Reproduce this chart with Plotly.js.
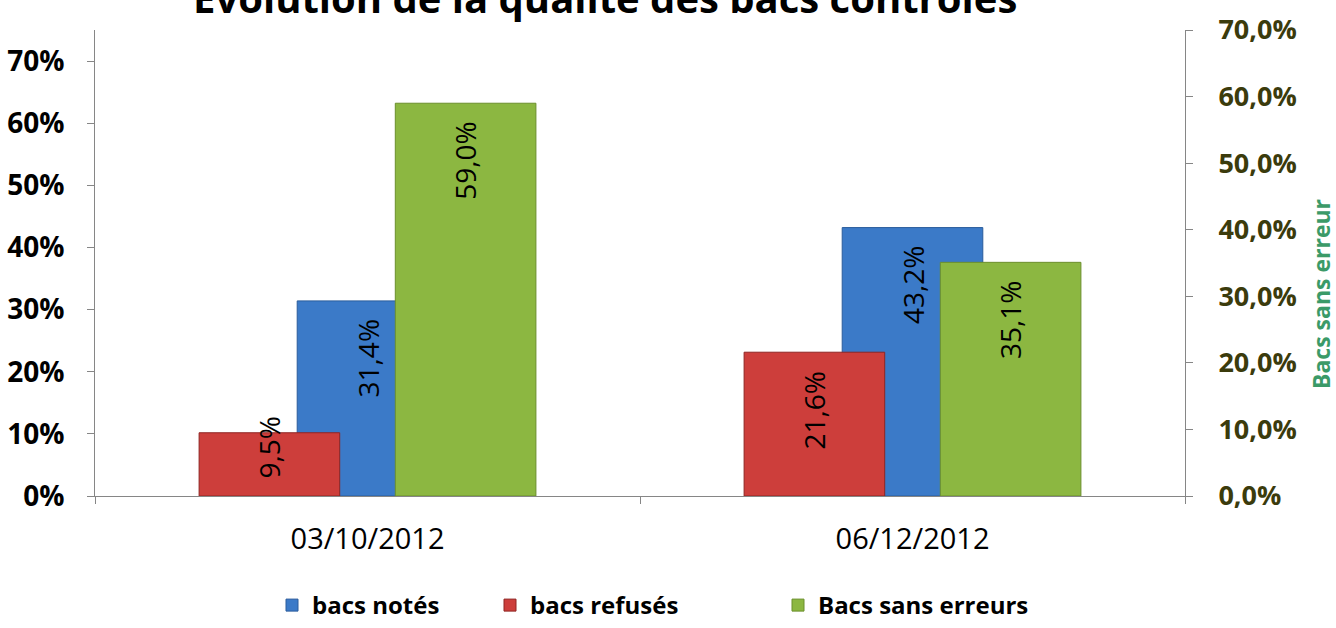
<!DOCTYPE html>
<html>
<head>
<meta charset="utf-8">
<script src="https://cdn.plot.ly/plotly-3.0.1.min.js"></script>
<style>html,body{margin:0;padding:0;background:#fff;}#chart{width:1336px;height:628px;}</style>
</head>
<body>
<div id="chart"></div>
<script>
// ---- data ----
var categories = ['03/10/2012', '06/12/2012'];
var bacsNotes = [31.4, 43.2];        // left axis
var bacsRefuses = [9.5, 21.6];       // right axis
var bacsSansErreurs = [59.0, 35.1];  // right axis
var seriesNames = ['bacs notés', 'bacs refusés', 'Bacs sans erreurs'];
var leftTicks = [0, 10, 20, 30, 40, 50, 60, 70];
var leftTickText = ['0%', '10%', '20%', '30%', '40%', '50%', '60%', '70%'];
var rightTicks = [0, 10, 20, 30, 40, 50, 60, 70];
var rightTickText = ['0,0%', '10,0%', '20,0%', '30,0%', '40,0%', '50,0%', '60,0%', '70,0%'];
var chartTitle = 'Evolution de la qualité des bacs contrôlés';
var rightAxisTitle = 'Bacs sans erreur';

// ---- style ----
var FONT = 'Open Sans, Noto Sans, sans-serif';
var W = 1336, H = 628;
var M = {l: 95, r: 151, t: 30, b: 132};
var plotW = W - M.l - M.r, plotH = H - M.t - M.b;
var barW = 0.258, step = 0.18;
var colors = {blue: '#3b7ac8', red: '#cd3e3b', green: '#8cb741'};
var lines = {blue: '#2a5c9c', red: '#8f2523', green: '#6b8f2c'};
var leftRange = [0, 75], rightRange = [0, 70];

function fmt(v) { return v.toFixed(1).replace('.', ',') + '%'; }

var traces = [
  {type: 'bar', name: seriesNames[0], x: categories, y: bacsNotes, yaxis: 'y',
   width: barW, offset: -barW / 2, marker: {color: colors.blue, line: {color: lines.blue, width: 1}},
   legend: 'legend'},
  {type: 'bar', name: seriesNames[1], x: categories, y: bacsRefuses, yaxis: 'y2',
   width: barW, offset: -step - barW / 2, marker: {color: colors.red, line: {color: lines.red, width: 1}},
   legend: 'legend2'},
  {type: 'bar', name: seriesNames[2], x: categories, y: bacsSansErreurs, yaxis: 'y2',
   width: barW, offset: step - barW / 2, marker: {color: colors.green, line: {color: lines.green, width: 1}},
   legend: 'legend3'}
];

// value labels (rotated, inside end)
var labelFont = 28;
var annotations = [];
function addLabels(vals, shift, yref, range) {
  var pxPerUnit = plotH / (range[1] - range[0]);
  vals.forEach(function (v, i) {
    var txt = fmt(v);
    var lenPx = txt.length * 0.56 * labelFont;
    var barPx = v * pxPerUnit;
    var a = {x: i + shift, y: v, xref: 'x', yref: yref, text: txt, showarrow: false,
             textangle: -90, font: {family: FONT, size: labelFont, color: '#000'},
             xanchor: 'center', yanchor: 'top', yshift: -17};
    if (barPx < lenPx + 17 + 16) { a.y = 0; a.yanchor = 'bottom'; a.yshift = 16; }
    annotations.push(a);
  });
}
addLabels(bacsNotes, 0, 'y', leftRange);
addLabels(bacsRefuses, -step, 'y2', rightRange);
addLabels(bacsSansErreurs, step, 'y2', rightRange);

// right axis title
annotations.push({xref: 'paper', yref: 'paper', x: (1321 - M.l) / plotW, y: (H - M.b - 294) / plotH,
  text: '<b>' + rightAxisTitle + '</b>', showarrow: false, textangle: -90,
  font: {family: FONT, size: 23, color: '#3b9a68'}, xanchor: 'center', yanchor: 'middle'});

// chart title (partly cut at the top as in the reference)
annotations.push({xref: 'paper', yref: 'paper', x: (605 - M.l) / plotW, y: (H - M.b + 3) / plotH,
  text: '<b>' + chartTitle + '</b>', showarrow: false,
  font: {family: FONT, size: 40, color: '#000'}, xanchor: 'center', yanchor: 'middle'});

function legendAt(px) {
  return {orientation: 'h', xref: 'container', yref: 'container', x: px / W, y: 0,
          xanchor: 'left', yanchor: 'bottom', bgcolor: 'rgba(0,0,0,0)', borderwidth: 0,
          font: {family: FONT, size: 24, color: '#000', weight: 'bold'}, itemwidth: 30};
}

var axisCommon = {showline: true, linecolor: '#868686', linewidth: 1, ticks: 'outside', ticklen: 7,
                  tickcolor: '#868686', showgrid: false, zeroline: false, fixedrange: true};

var layout = {
  width: W, height: H, margin: M, paper_bgcolor: '#fff', plot_bgcolor: '#fff',
  showlegend: true,
  legend: legendAt(272), legend2: legendAt(490), legend3: legendAt(778),
  xaxis: Object.assign({}, axisCommon, {type: 'category', range: [-0.5, 1.5], tickson: 'boundaries',
          tickfont: {family: FONT, size: 29, color: '#000'}, ticklabelstandoff: 17}),
  yaxis: Object.assign({}, axisCommon, {range: leftRange, tickmode: 'array', tickvals: leftTicks, ticktext: leftTickText,
          tickfont: {family: FONT, size: 28, color: '#000', weight: 'bold'}, ticklabelstandoff: 17}),
  yaxis2: Object.assign({}, axisCommon, {range: rightRange, tickmode: 'array', tickvals: rightTicks, ticktext: rightTickText,
          overlaying: 'y', side: 'right',
          tickfont: {family: FONT, size: 27, color: '#3b3b0c', weight: 'bold'}, ticklabelstandoff: 20}),
  annotations: annotations,
  bargap: 0, hovermode: false
};

Plotly.newPlot('chart', traces, layout, {staticPlot: true, displayModeBar: false});
</script>
</body>
</html>
